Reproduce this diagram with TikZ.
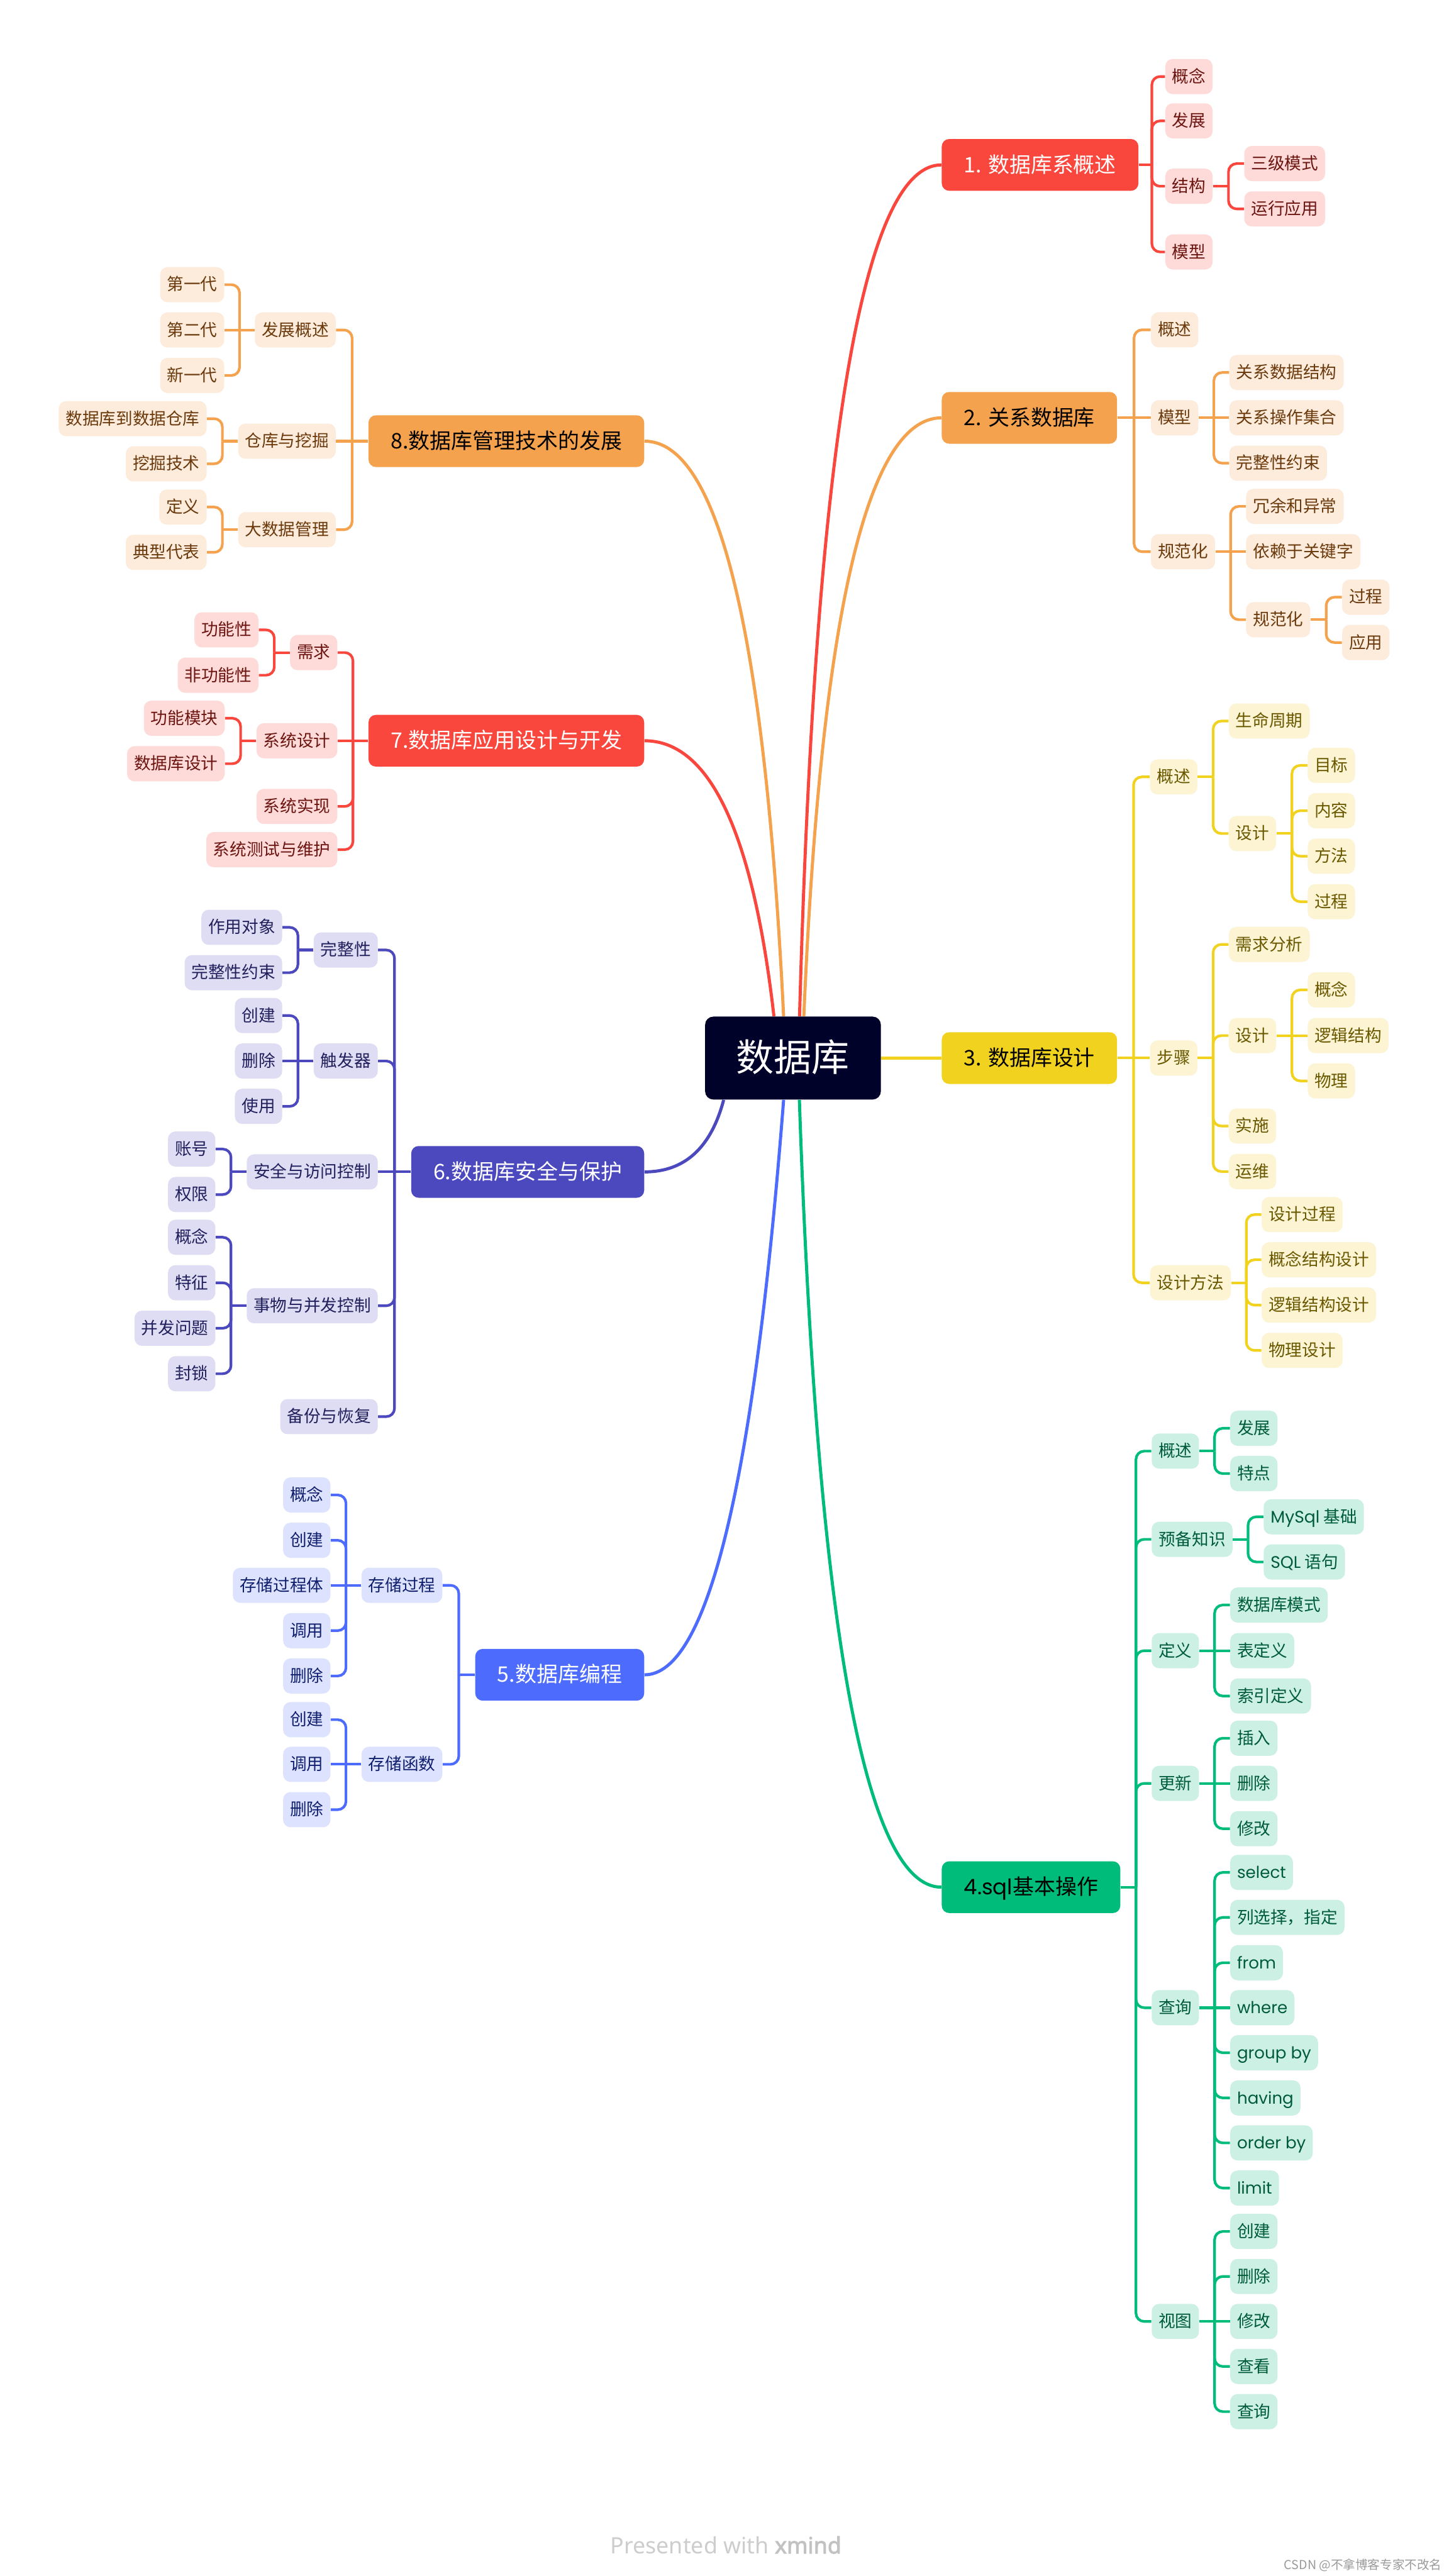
\documentclass[tikz,border=0pt]{standalone}
\usepackage{fontspec}
\setmainfont{Noto Sans CJK SC}
\newfontfamily\lat{Poppins}
\newfontfamily\ftfont{Noto Sans}
\newfontfamily\ftbold[FakeBold=2.5]{Noto Sans}
\usetikzlibrary{calc}
\definecolor{rootc}{HTML}{00022A}
\definecolor{redc}{HTML}{F9473D}
\definecolor{redl}{HTML}{FEDBD9}
\definecolor{redt}{HTML}{6B1410}
\definecolor{orac}{HTML}{F5A24E}
\definecolor{oral}{HTML}{FDEBDC}
\definecolor{orat}{HTML}{6A3A0C}
\definecolor{yelc}{HTML}{F1D31F}
\definecolor{yell}{HTML}{FCF4D3}
\definecolor{yelt}{HTML}{6A5800}
\definecolor{grnc}{HTML}{00BC7B}
\definecolor{grnl}{HTML}{CCF1E4}
\definecolor{grnt}{HTML}{005B3B}
\definecolor{bluc}{HTML}{4D6CFE}
\definecolor{blul}{HTML}{DDE3FE}
\definecolor{blut}{HTML}{101F6E}
\definecolor{indc}{HTML}{4C49BF}
\definecolor{indl}{HTML}{DEDDF3}
\definecolor{indt}{HTML}{211F5C}
\definecolor{ftc}{HTML}{CDCDCD}
\definecolor{ftb}{HTML}{C2C2C2}
\definecolor{wmc}{HTML}{9A9A9A}
% connector: child to the right
\newcommand\conR[3]{%
  \path (#2.east) -- (#2.east -| #3.west) coordinate[pos=.5] (jt);
  \draw[#1] (#2.east) -- (jt);
  \draw[#1,rounded corners=5pt] (jt) |- (#3.west);}
% connector: child to the left
\newcommand\conL[3]{%
  \path (#2.west) -- (#2.west -| #3.east) coordinate[pos=.5] (jt);
  \draw[#1] (#2.west) -- (jt);
  \draw[#1,rounded corners=5pt] (jt) |- (#3.east);}
% straight connector
\newcommand\conS[3]{\draw[#1] (#2) -- (#3);}
% main curve (quadratic as cubic)
\newcommand\brc[4]{\draw[#1] (#2) .. controls ($(#2)!2/3!(#3)$) and ($(#4)!2/3!(#3)$) .. (#4);}
\begin{document}
\begin{tikzpicture}[x=1pt,y=-1pt,
  base/.style={rounded corners=4.5pt, inner ysep=0pt},
  leaf/.style={base, minimum height=21.4pt, inner xsep=4.2pt, font=\fontsize{10.2pt}{10.2pt}\selectfont, text height=8.4pt, text depth=1.2pt},
  mainn/.style={base, minimum height=31.5pt, inner xsep=13.5pt, font=\fontsize{13pt}{13pt}\selectfont, text height=10.7pt, text depth=1.6pt},
  root/.style={fill=rootc, text=white, rounded corners=5pt, minimum width=107pt, minimum height=50.5pt, inner sep=0pt, font=\fontsize{23pt}{23pt}\selectfont, text height=19pt, text depth=2.7pt},
  rt/.style={anchor=west}, lt/.style={anchor=east},
  lR/.style={leaf, fill=redl, text=redt},
  lO/.style={leaf, fill=oral, text=orat},
  lY/.style={leaf, fill=yell, text=yelt},
  lG/.style={leaf, fill=grnl, text=grnt},
  lB/.style={leaf, fill=blul, text=blut},
  lV/.style={leaf, fill=indl, text=indt},
  cr/.style={draw=redc, line width=1.6pt},
  co/.style={draw=orac, line width=1.6pt},
  cy/.style={draw=yelc, line width=1.6pt},
  cg/.style={draw=grnc, line width=1.6pt},
  cb/.style={draw=bluc, line width=1.6pt},
  cv/.style={draw=indc, line width=1.6pt},
  mr/.style={cr, line width=1.9pt}, mo/.style={co, line width=1.9pt},
  my/.style={cy, line width=1.9pt}, mg/.style={cg, line width=1.9pt},
  mb/.style={cb, line width=1.9pt}, mv/.style={cv, line width=1.9pt},
  lat/.style={font=\lat\fontsize{10pt}{10pt}\selectfont}
]
\fill[white] (0,0) rectangle (882,1568.4);
\useasboundingbox (0,0) rectangle (882,1568.4);

% root
\node[root] (ctr) at (482.8,644.2) {数据库};

% main nodes
\node[mainn, rt, fill=redc, text=white] (b1) at (573.2,100.4) {1. 数据库系概述};
\node[mainn, rt, fill=orac, text=black] (b2) at (573.2,254.4) {2. 关系数据库};
\node[mainn, rt, fill=yelc, text=black] (b3) at (573.2,644.2) {3. 数据库设计};
\node[mainn, rt, fill=grnc, text=black] (b4) at (573.2,1149) {{\lat 4.sql}基本操作};
\node[mainn, lt, fill=bluc, text=white] (b5) at (392.4,1019.7) {5.数据库编程};
\node[mainn, lt, fill=indc, text=white] (b6) at (392.4,713.5) {6.数据库安全与保护};
\node[mainn, lt, fill=redc, text=white] (b7) at (392.4,451) {7.数据库应用设计与开发};
\node[mainn, lt, fill=orac, text=black] (b8) at (392.4,268.6) {8.数据库管理技术的发展};

% branch 1
\node[lR, rt] (n1a) at (709.3,46.6) {概念};
\node[lR, rt] (n1b) at (709.3,73.6) {发展};
\node[lR, rt] (n1c) at (709.3,113.4) {结构};
\node[lR, rt] (n1d) at (709.3,153.4) {模型};
\node[lR, rt] (n1c1) at (757.4,99.6) {三级模式};
\node[lR, rt] (n1c2) at (757.4,127.2) {运行应用};

% branch 2
\node[lO, rt] (n2a) at (700.6,200.8) {概述};
\node[lO, rt] (n2b) at (700.6,254.4) {模型};
\node[lO, rt] (n2c) at (700.6,335.9) {规范化};
\node[lO, rt] (n2b1) at (748.3,226.8) {关系数据结构};
\node[lO, rt] (n2b2) at (748.3,254.4) {关系操作集合};
\node[lO, rt] (n2b3) at (748.3,282) {完整性约束};
\node[lO, rt] (n2c1) at (758.5,308.3) {冗余和异常};
\node[lO, rt] (n2c2) at (758.5,335.9) {依赖于关键字};
\node[lO, rt] (n2c3) at (758.5,377.3) {规范化};
\node[lO, rt] (n2c31) at (817,363.6) {过程};
\node[lO, rt] (n2c32) at (817,391.2) {应用};

% branch 3
\node[lY, rt] (n3a) at (700,473) {概述};
\node[lY, rt] (n3b) at (700,644.2) {步骤};
\node[lY, rt] (n3c) at (700,781) {设计方法};
\node[lY, rt] (n3a1) at (748,439) {生命周期};
\node[lY, rt] (n3a2) at (748,507.5) {设计};
\node[lY, rt] (n3a21) at (796,466) {目标};
\node[lY, rt] (n3a22) at (796,493.6) {内容};
\node[lY, rt] (n3a23) at (796,521.3) {方法};
\node[lY, rt] (n3a24) at (796,549) {过程};
\node[lY, rt] (n3b1) at (748,575) {需求分析};
\node[lY, rt] (n3b2) at (748,630.5) {设计};
\node[lY, rt] (n3b21) at (796,602.7) {概念};
\node[lY, rt] (n3b22) at (796,630.5) {逻辑结构};
\node[lY, rt] (n3b23) at (796,658.1) {物理};
\node[lY, rt] (n3b3) at (748,685.6) {实施};
\node[lY, rt] (n3b4) at (748,713.3) {运维};
\node[lY, rt] (n3c1) at (768,739.5) {设计过程};
\node[lY, rt] (n3c2) at (768,767) {概念结构设计};
\node[lY, rt] (n3c3) at (768,794.6) {逻辑结构设计};
\node[lY, rt] (n3c4) at (768,822.2) {物理设计};

% branch 4
\node[lG, rt] (n4a) at (701,883.5) {概述};
\node[lG, rt] (n4b) at (701,937.2) {预备知识};
\node[lG, rt] (n4c) at (701,1005) {定义};
\node[lG, rt] (n4d) at (701,1085.8) {更新};
\node[lG, rt] (n4e) at (701,1222.4) {查询};
\node[lG, rt] (n4f) at (701,1413.4) {视图};
\node[lG, rt] (n4a1) at (748.8,869.6) {发展};
\node[lG, rt] (n4a2) at (748.8,897.2) {特点};
\node[lG, rt] (n4b1) at (769.2,923.5) {{\lat MySql} 基础};
\node[lG, rt] (n4b2) at (769.2,951) {{\lat SQL} 语句};
\node[lG, rt] (n4c1) at (748.8,977.2) {数据库模式};
\node[lG, rt] (n4c2) at (748.8,1005) {表定义};
\node[lG, rt] (n4c3) at (748.8,1032.6) {索引定义};
\node[lG, rt] (n4d1) at (748.8,1058.3) {插入};
\node[lG, rt] (n4d2) at (748.8,1085.8) {删除};
\node[lG, rt] (n4d3) at (748.8,1113.4) {修改};
\node[lG, rt, lat] (n4e1) at (748.8,1140) {select};
\node[lG, rt] (n4e2) at (748.8,1167.4) {列选择，指定};
\node[lG, rt, lat] (n4e3) at (748.8,1195) {from};
\node[lG, rt, lat] (n4e4) at (748.8,1222.4) {where};
\node[lG, rt, lat] (n4e5) at (748.8,1249.8) {group by};
\node[lG, rt, lat] (n4e6) at (748.8,1277.3) {having};
\node[lG, rt, lat] (n4e7) at (748.8,1304.7) {order by};
\node[lG, rt, lat] (n4e8) at (748.8,1332.2) {limit};
\node[lG, rt] (n4f1) at (748.8,1358.6) {创建};
\node[lG, rt] (n4f2) at (748.8,1386) {删除};
\node[lG, rt] (n4f3) at (748.8,1413.4) {修改};
\node[lG, rt] (n4f4) at (748.8,1440.8) {查看};
\node[lG, rt] (n4f5) at (748.8,1468.3) {查询};

% branch 5
\node[lB, lt] (n5a) at (269.5,965.2) {存储过程};
\node[lB, lt] (n5b) at (269.5,1074.2) {存储函数};
\node[lB, lt] (n5a1) at (201.4,910.2) {概念};
\node[lB, lt] (n5a2) at (201.4,937.8) {创建};
\node[lB, lt] (n5a3) at (201.4,965.2) {存储过程体};
\node[lB, lt] (n5a4) at (201.4,992.8) {调用};
\node[lB, lt] (n5a5) at (201.4,1020.4) {删除};
\node[lB, lt] (n5b1) at (201.4,1047) {创建};
\node[lB, lt] (n5b2) at (201.4,1074.2) {调用};
\node[lB, lt] (n5b3) at (201.4,1101.8) {删除};

% branch 6
\node[lV, lt] (n6a) at (230.2,578.4) {完整性};
\node[lV, lt] (n6b) at (230.2,646) {触发器};
\node[lV, lt] (n6c) at (230.2,713.5) {安全与访问控制};
\node[lV, lt] (n6d) at (230.2,795) {事物与并发控制};
\node[lV, lt] (n6e) at (230.2,862.5) {备份与恢复};
\node[lV, lt] (n6a1) at (172,564.6) {作用对象};
\node[lV, lt] (n6a2) at (172,592.2) {完整性约束};
\node[lV, lt] (n6b1) at (172,618.3) {创建};
\node[lV, lt] (n6b2) at (172,646) {删除};
\node[lV, lt] (n6b3) at (172,673.6) {使用};
\node[lV, lt] (n6c1) at (131.3,699.6) {账号};
\node[lV, lt] (n6c2) at (131.3,727.3) {权限};
\node[lV, lt] (n6d1) at (131.3,753.3) {概念};
\node[lV, lt] (n6d2) at (131.3,781) {特征};
\node[lV, lt] (n6d3) at (131.3,808.7) {并发问题};
\node[lV, lt] (n6d4) at (131.3,836.4) {封锁};

% branch 7
\node[lR, lt] (n7a) at (205.6,397.3) {需求};
\node[lR, lt] (n7b) at (205.6,451) {系统设计};
\node[lR, lt] (n7c) at (205.6,491) {系统实现};
\node[lR, lt] (n7d) at (205.6,517.3) {系统测试与维护};
\node[lR, lt] (n7a1) at (157.6,383.5) {功能性};
\node[lR, lt] (n7a2) at (157.6,411.1) {非功能性};
\node[lR, lt] (n7b1) at (137,437.3) {功能模块};
\node[lR, lt] (n7b2) at (137,465) {数据库设计};

% branch 8
\node[lO, lt] (n8a) at (204.6,200.9) {发展概述};
\node[lO, lt] (n8b) at (204.6,268.6) {仓库与挖掘};
\node[lO, lt] (n8c) at (204.6,322.5) {大数据管理};
\node[lO, lt] (n8a1) at (136.7,173.3) {第一代};
\node[lO, lt] (n8a2) at (136.7,200.9) {第二代};
\node[lO, lt] (n8a3) at (136.7,228.6) {新一代};
\node[lO, lt] (n8b1) at (126,254.9) {数据库到数据仓库};
\node[lO, lt] (n8b2) at (126,282.4) {挖掘技术};
\node[lO, lt] (n8c1) at (126,308.7) {定义};
\node[lO, lt] (n8c2) at (126,336.3) {典型代表};

% ---- root curves
\coordinate (s1) at ($(ctr.north west)+(57.7,0)$);
\coordinate (s2) at ($(ctr.north west)+(60.3,0)$);
\coordinate (s7) at ($(ctr.north west)+(42.1,0)$);
\coordinate (s8) at ($(ctr.north west)+(48,0)$);
\coordinate (s6) at ($(ctr.south west)+(11.5,0)$);
\coordinate (s5) at ($(ctr.south west)+(48,0)$);
\coordinate (s4) at ($(ctr.south west)+(57.6,0)$);
\coordinate (k1) at (501,0 |- b1.west);
\coordinate (k2) at (505,0 |- b2.west);
\coordinate (k4) at (503,0 |- b4.west);
\coordinate (k5) at (450,0 |- b5.east);
\coordinate (k6) at (429,0 |- b6.east);
\coordinate (k7) at (452,0 |- b7.east);
\coordinate (k8) at (460,0 |- b8.east);
\brc{mr}{s1}{k1}{b1.west}
\brc{mo}{s2}{k2}{b2.west}
\conS{my}{ctr.east}{b3.west}
\brc{mg}{s4}{k4}{b4.west}
\brc{mb}{s5}{k5}{b5.east}
\brc{mv}{s6}{k6}{b6.east}
\brc{mr}{s7}{k7}{b7.east}
\brc{mo}{s8}{k8}{b8.east}

% ---- branch 1
\foreach \c in {n1a,n1b,n1c,n1d} {\conR{cr}{b1}{\c}}
\foreach \c in {n1c1,n1c2} {\conR{cr}{n1c}{\c}}
% ---- branch 2
\foreach \c in {n2a,n2c} {\conR{co}{b2}{\c}}
\conS{co}{b2.east}{n2b.west}
\foreach \c in {n2b1,n2b3} {\conR{co}{n2b}{\c}}
\conS{co}{n2b.east}{n2b2.west}
\foreach \c in {n2c1,n2c3} {\conR{co}{n2c}{\c}}
\conS{co}{n2c.east}{n2c2.west}
\foreach \c in {n2c31,n2c32} {\conR{co}{n2c3}{\c}}
% ---- branch 3
\foreach \c in {n3a,n3c} {\conR{cy}{b3}{\c}}
\conS{cy}{b3.east}{n3b.west}
\foreach \c in {n3a1,n3a2} {\conR{cy}{n3a}{\c}}
\foreach \c in {n3a21,n3a22,n3a23,n3a24} {\conR{cy}{n3a2}{\c}}
\foreach \c in {n3b1,n3b2,n3b3,n3b4} {\conR{cy}{n3b}{\c}}
\foreach \c in {n3b21,n3b23} {\conR{cy}{n3b2}{\c}}
\conS{cy}{n3b2.east}{n3b22.west}
\foreach \c in {n3c1,n3c2,n3c3,n3c4} {\conR{cy}{n3c}{\c}}
% ---- branch 4
\foreach \c in {n4a,n4b,n4c,n4d,n4e,n4f} {\conR{cg}{b4}{\c}}
\foreach \c in {n4a1,n4a2} {\conR{cg}{n4a}{\c}}
\foreach \c in {n4b1,n4b2} {\conR{cg}{n4b}{\c}}
\foreach \c in {n4c1,n4c3} {\conR{cg}{n4c}{\c}}
\conS{cg}{n4c.east}{n4c2.west}
\foreach \c in {n4d1,n4d3} {\conR{cg}{n4d}{\c}}
\conS{cg}{n4d.east}{n4d2.west}
\foreach \c in {n4e1,n4e2,n4e3,n4e5,n4e6,n4e7,n4e8} {\conR{cg}{n4e}{\c}}
\conS{cg}{n4e.east}{n4e4.west}
\foreach \c in {n4f1,n4f2,n4f4,n4f5} {\conR{cg}{n4f}{\c}}
\conS{cg}{n4f.east}{n4f3.west}
% ---- branch 5
\foreach \c in {n5a,n5b} {\conL{cb}{b5}{\c}}
\foreach \c in {n5a1,n5a2,n5a4,n5a5} {\conL{cb}{n5a}{\c}}
\conS{cb}{n5a.west}{n5a3.east}
\foreach \c in {n5b1,n5b3} {\conL{cb}{n5b}{\c}}
\conS{cb}{n5b.west}{n5b2.east}
% ---- branch 6
\foreach \c in {n6a,n6b,n6d,n6e} {\conL{cv}{b6}{\c}}
\conS{cv}{b6.west}{n6c.east}
\foreach \c in {n6a1,n6a2} {\conL{cv}{n6a}{\c}}
\foreach \c in {n6b1,n6b3} {\conL{cv}{n6b}{\c}}
\conS{cv}{n6b.west}{n6b2.east}
\foreach \c in {n6c1,n6c2} {\conL{cv}{n6c}{\c}}
\foreach \c in {n6d1,n6d2,n6d3,n6d4} {\conL{cv}{n6d}{\c}}
% ---- branch 7
\foreach \c in {n7a,n7c,n7d} {\conL{cr}{b7}{\c}}
\conS{cr}{b7.west}{n7b.east}
\foreach \c in {n7a1,n7a2} {\conL{cr}{n7a}{\c}}
\foreach \c in {n7b1,n7b2} {\conL{cr}{n7b}{\c}}
% ---- branch 8
\foreach \c in {n8a,n8c} {\conL{co}{b8}{\c}}
\conS{co}{b8.west}{n8b.east}
\foreach \c in {n8a1,n8a3} {\conL{co}{n8a}{\c}}
\conS{co}{n8a.west}{n8a2.east}
\foreach \c in {n8b1,n8b2} {\conL{co}{n8b}{\c}}
\foreach \c in {n8c1,n8c2} {\conL{co}{n8c}{\c}}

% footer
\node[font=\ftfont\fontsize{13.7pt}{14pt}\selectfont, text=ftc, inner sep=0pt] (ft) at (442,1549.5) {Presented with {\ftbold\color{ftb}xmind}};
\node[anchor=east, font=\fontsize{7.5pt}{8pt}\selectfont, text=wmc, inner sep=0pt] (wm) at (878,1561.7) {CSDN @不拿博客专家不改名};
\end{tikzpicture}
\end{document}
